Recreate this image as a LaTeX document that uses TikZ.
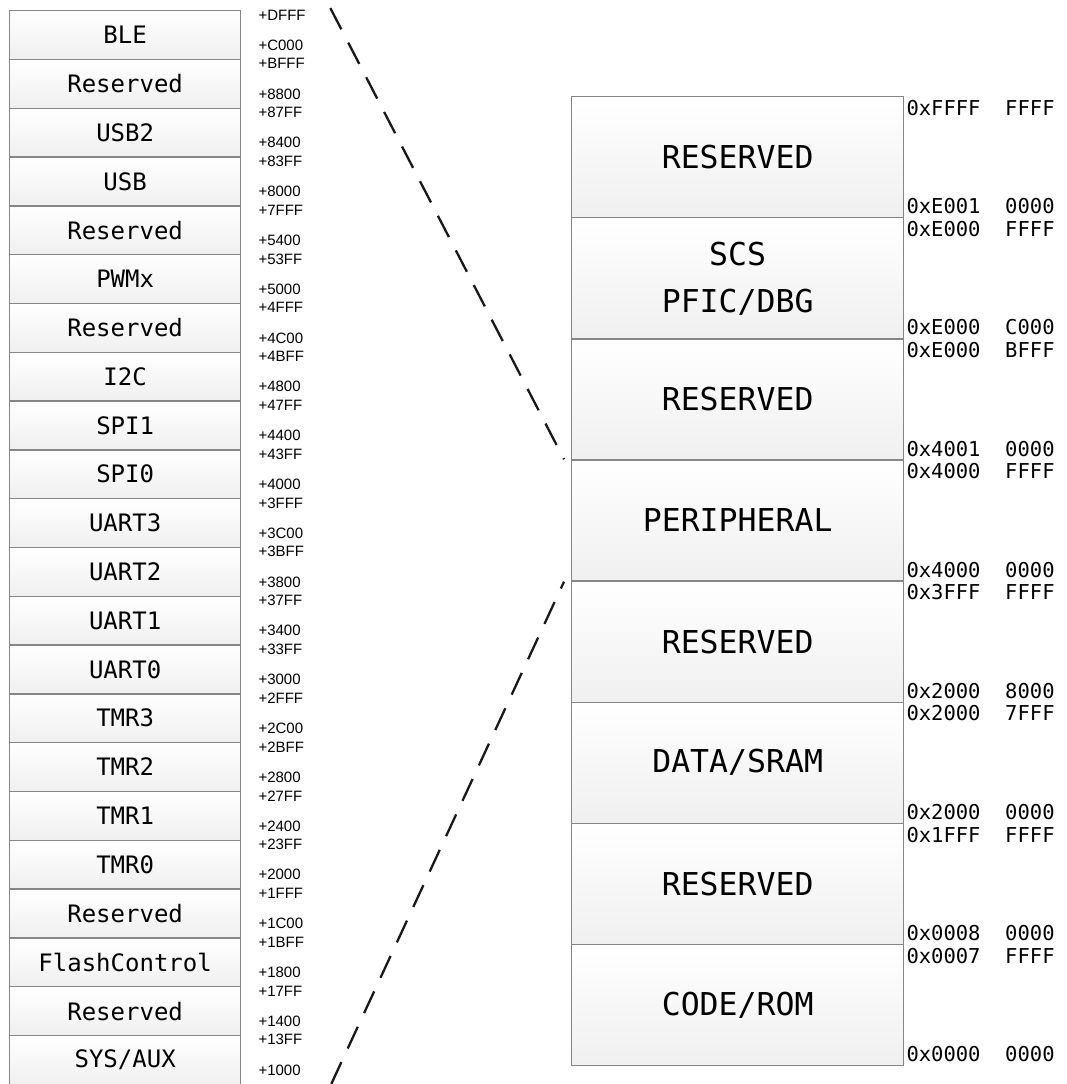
\documentclass[tikz,border=0pt]{standalone}
\usepackage{fontspec}
\usepackage{tikz}
\newfontfamily\boxfont{DejaVu Sans Mono}
\newfontfamily\addrfont{Liberation Sans}

\tikzset{
  membox/.style={draw=gray!95, line width=1.3pt, top color=white, bottom color=gray!12,
    anchor=north west, inner sep=0pt, align=center},
  periph/.style={membox, minimum width=231pt, minimum height=48.8pt,
    font=\boxfont\fontsize{24}{28}\selectfont},
  region/.style={membox, minimum width=332pt, minimum height=121.1pt,
    font=\boxfont\fontsize{31.5}{47}\selectfont},
  offs/.style={anchor=west, inner sep=0pt, font=\addrfont\fontsize{15}{17}\selectfont},
  addr/.style={anchor=west, inner sep=0pt, font=\boxfont\fontsize{20.5}{24}\selectfont},
  zoomline/.style={draw=gray!20!black, line width=2.3pt, dash pattern=on 24pt off 15pt}
}

\begin{document}
\begin{tikzpicture}[x=1pt,y=-1pt]
\useasboundingbox (0,0) rectangle (1067,1084);

% peripheral window (left)
\foreach \name/\hi/\lo [count=\i from 0] in {BLE/+DFFF/+C000, Reserved/+BFFF/+8800,
  USB2/+87FF/+8400, USB/+83FF/+8000, Reserved/+7FFF/+5400, PWMx/+53FF/+5000,
  Reserved/+4FFF/+4C00, I2C/+4BFF/+4800, SPI1/+47FF/+4400, SPI0/+43FF/+4000,
  UART3/+3FFF/+3C00, UART2/+3BFF/+3800, UART1/+37FF/+3400, UART0/+33FF/+3000,
  TMR3/+2FFF/+2C00, TMR2/+2BFF/+2800, TMR1/+27FF/+2400, TMR0/+23FF/+2000,
  Reserved/+1FFF/+1C00, FlashControl/+1BFF/+1800, Reserved/+17FF/+1400,
  {SYS/AUX}/+13FF/+1000}
{
  \node[periph] (l\i) at (9,{10+\i*48.8}) {\name};
  \node[offs] (lh\i) at ([xshift=17pt,yshift=-5pt]l\i.north east) {\hi};
  \node[offs] (ll\i) at ([xshift=17pt,yshift=15pt]l\i.south east) {\lo};
}

% memory map (right)
\foreach \name/\hi/\lo [count=\i from 0] in {RESERVED/0xFFFF\ \ FFFF/0xE001\ \ 0000,
  {SCS\\PFIC/DBG}/0xE000\ \ FFFF/0xE000\ \ C000,
  RESERVED/0xE000\ \ BFFF/0x4001\ \ 0000,
  PERIPHERAL/0x4000\ \ FFFF/0x4000\ \ 0000,
  RESERVED/0x3FFF\ \ FFFF/0x2000\ \ 8000,
  {DATA/SRAM}/0x2000\ \ 7FFF/0x2000\ \ 0000,
  RESERVED/0x1FFF\ \ FFFF/0x0008\ \ 0000,
  {CODE/ROM}/0x0007\ \ FFFF/0x0000\ \ 0000}
{
  \node[region] (r\i) at (571,{96+\i*121.1}) {\name};
  \node[addr] (rh\i) at ([xshift=2pt,yshift=-12pt]r\i.north east) {\hi};
  \node[addr] (rl\i) at ([xshift=2pt,yshift=12pt]r\i.south east) {\lo};
}

% zoom lines
\coordinate (ztop) at ([xshift=89pt,yshift=2pt]l0.north east);
\coordinate (zbot) at ([xshift=90pt,yshift=1pt]l21.south east);
\draw[zoomline] (ztop) -- ([xshift=-7pt]r3.north west);
\draw[zoomline] (zbot) -- ([xshift=-7pt]r3.south west);
\end{tikzpicture}
\end{document}
